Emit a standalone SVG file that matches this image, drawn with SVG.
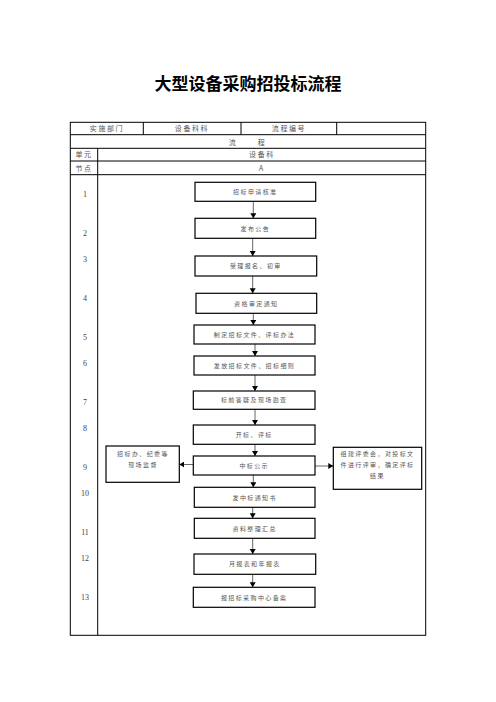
<svg xmlns="http://www.w3.org/2000/svg" width="496" height="702" viewBox="0 0 496 702">
<style>
.tbl{fill:none;stroke:#000;stroke-width:1}
.box{fill:#fff;stroke:#000;stroke-width:1.2}
.t{font-family:"Noto Sans CJK SC","Noto Sans",sans-serif;font-size:6px;fill:#555;text-anchor:middle;letter-spacing:1.4px}
.h{font-family:"Noto Sans CJK SC","Noto Sans",sans-serif;font-size:7px;fill:#555;text-anchor:middle;letter-spacing:1.6px}
.n{font-family:"Liberation Serif",serif;font-size:8px;fill:#444;text-anchor:middle}
.ttl{font-family:"Noto Sans CJK SC",sans-serif;font-size:17px;font-weight:bold;fill:#000;text-anchor:middle}
.c{stroke:#666;stroke-width:1;fill:none;marker-end:url(#ah)}
</style>
<defs>
<marker id="ah" markerWidth="6" markerHeight="6" refX="5" refY="3" orient="auto" markerUnits="userSpaceOnUse">
<path d="M0,0 L5,3 L0,6 Z" fill="#000"/>
</marker>
</defs>
<rect width="496" height="702" fill="#fff"/>
<text class="ttl" x="248" y="90">大型设备采购招投标流程</text>
<g id="table">
<rect class="tbl" x="70.3" y="122.3" width="355.4" height="513"/>
<line class="tbl" x1="70.3" y1="134.7" x2="425.7" y2="134.7"/>
<line class="tbl" x1="70.3" y1="148.3" x2="425.7" y2="148.3"/>
<line class="tbl" x1="70.3" y1="161" x2="425.7" y2="161"/>
<line class="tbl" x1="70.3" y1="174.7" x2="425.7" y2="174.7"/>
<line class="tbl" x1="143.3" y1="122.3" x2="143.3" y2="134.7"/>
<line class="tbl" x1="241" y1="122.3" x2="241" y2="134.7"/>
<line class="tbl" x1="336.7" y1="122.3" x2="336.7" y2="134.7"/>
<line class="tbl" x1="97.7" y1="148.3" x2="97.7" y2="635.3"/>
<text class="h" x="107" y="131">实施部门</text>
<text class="h" x="192" y="131">设备科科</text>
<text class="h" x="289" y="131">流程编号</text>
<text class="h" x="233" y="144.5">流</text>
<text class="h" x="262" y="144.5">程</text>
<text class="h" x="84" y="157.3">单元</text>
<text class="h" x="262" y="157.3">设备科</text>
<text class="h" x="84" y="170.5">节点</text>
<text class="h" x="262" y="170.5">A</text>
</g>
<g id="numbers">
<text class="n" x="85" y="197">1</text>
<text class="n" x="85" y="236">2</text>
<text class="n" x="85" y="262">3</text>
<text class="n" x="85" y="301">4</text>
<text class="n" x="85" y="339.5">5</text>
<text class="n" x="85" y="366">6</text>
<text class="n" x="85" y="404.5">7</text>
<text class="n" x="85" y="430.5">8</text>
<text class="n" x="85" y="469.5">9</text>
<text class="n" x="85" y="495.5">10</text>
<text class="n" x="85" y="534.5">11</text>
<text class="n" x="85" y="561">12</text>
<text class="n" x="85" y="599.5">13</text>
</g>
<g id="connectors">
<line class="c" x1="253.3" y1="201.3" x2="253.3" y2="218.3"/>
<line class="c" x1="252.7" y1="238.3" x2="252.7" y2="256"/>
<line class="c" x1="252.7" y1="276" x2="252.7" y2="293.3"/>
<line class="c" x1="253.3" y1="313.3" x2="253.3" y2="325"/>
<line class="c" x1="255" y1="344" x2="255" y2="356"/>
<line class="c" x1="255" y1="375" x2="255" y2="391"/>
<line class="c" x1="255" y1="409.3" x2="255" y2="425"/>
<line class="c" x1="255" y1="444.3" x2="255" y2="456"/>
<line class="c" x1="253.3" y1="475" x2="253.3" y2="487.3"/>
<line class="c" x1="252.7" y1="507.3" x2="252.7" y2="518.3"/>
<line class="c" x1="252.7" y1="538.3" x2="252.7" y2="554"/>
<line class="c" x1="252.7" y1="574.3" x2="252.7" y2="587.3"/>
<line class="c" x1="193.3" y1="464.5" x2="179.3" y2="464.5"/>
<line class="c" x1="315" y1="466" x2="333.3" y2="466"/>
</g>
<g id="n1"><rect class="box" x="195" y="182.3" width="120.7" height="19"/><text class="t" x="255.3" y="194">招标申请核准</text></g>
<g id="n2"><rect class="box" x="195" y="218.3" width="120.7" height="20"/><text class="t" x="255.3" y="230.5">发布公告</text></g>
<g id="n3"><rect class="box" x="195" y="256" width="121.7" height="20"/><text class="t" x="255.8" y="268.2">受理报名、初审</text></g>
<g id="n4"><rect class="box" x="196" y="293.3" width="120.7" height="20"/><text class="t" x="256.3" y="305.5">资格审定通知</text></g>
<g id="n5"><rect class="box" x="194" y="325" width="121" height="19"/><text class="t" x="254.5" y="336.7">制定招标文件、评标办法</text></g>
<g id="n6"><rect class="box" x="194" y="356" width="121" height="19"/><text class="t" x="254.5" y="367.7">发放招标文件、招标细则</text></g>
<g id="n7"><rect class="box" x="193.3" y="391" width="121.7" height="18.3"/><text class="t" x="254.2" y="402.3">标前答疑及现场勘查</text></g>
<g id="n8"><rect class="box" x="193.3" y="425" width="121.7" height="19.3"/><text class="t" x="254.2" y="436.8">开标、评标</text></g>
<g id="n9"><rect class="box" x="193.3" y="456" width="121.7" height="19"/><text class="t" x="254.2" y="467.7">中标公示</text></g>
<g id="n9l"><rect class="box" x="106" y="446" width="73.3" height="36.3"/><text class="t" x="143" y="456.3">招标办、纪委等</text><text class="t" x="143" y="466.5">现场监督</text></g>
<g id="n9r"><rect class="box" x="333.3" y="447.3" width="88.4" height="42"/><text class="t" x="377.5" y="455.5" letter-spacing="1.2">组建评委会，对投标文</text><text class="t" x="377.5" y="467" letter-spacing="1.2">件进行评审，确定评标</text><text class="t" x="377.5" y="478">结果</text></g>
<g id="n10"><rect class="box" x="194.3" y="487.3" width="120.7" height="20"/><text class="t" x="254.7" y="499.5">发中标通知书</text></g>
<g id="n11"><rect class="box" x="194.3" y="518.3" width="120.7" height="20"/><text class="t" x="254.7" y="530.5">资料整理汇总</text></g>
<g id="n12"><rect class="box" x="194" y="554" width="121.7" height="20.3"/><text class="t" x="254.8" y="566.3">月报表和年报表</text></g>
<g id="n13"><rect class="box" x="193.3" y="587.3" width="121.7" height="20"/><text class="t" x="254.2" y="599.5">报招标采购中心备案</text></g>
</svg>
